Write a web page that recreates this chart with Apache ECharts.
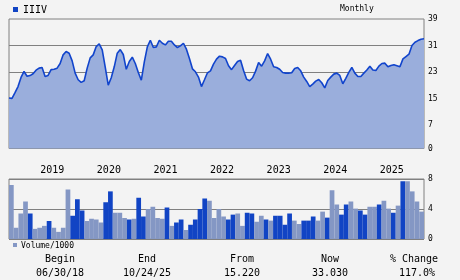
<!DOCTYPE html>
<html>
<head>
<meta charset="utf-8">
<script src="https://cdn.jsdelivr.net/npm/echarts@6/dist/echarts.min.js"></script>
<style>
html,body{margin:0;padding:0;background:#f3f3f3;}
#c{width:460px;height:280px;}
</style>
</head>
<body>
<div id="c"></div>
<script>
// ---- data ----
const ticker = 'IIIV';
const priceValues = [
15.22,15.1,16.8,18.65,21.4,23.2,21.75,21.96,22.5,23.6,
24.2,24.4,21.7,22.0,23.75,23.85,24.2,25.6,28.2,29.2,
28.7,26.4,22.7,20.7,19.9,20.4,24.2,27.3,28.2,30.7,
31.5,29.7,24.5,19.1,21.3,24.6,28.7,29.8,28.3,23.85,
26.2,27.5,25.6,22.9,20.6,26.1,30.6,32.6,30.4,30.6,
32.6,31.7,31.2,32.3,32.3,31.2,30.4,30.9,31.7,29.9,
27.1,24.0,23.1,21.5,18.65,20.7,22.8,23.4,25.4,26.9,
27.8,27.6,27.1,24.9,23.75,25.0,26.2,26.6,23.5,20.9,
20.4,21.3,23.3,25.9,24.8,26.4,28.6,26.9,24.6,24.4,
23.85,22.9,22.7,22.7,22.8,24.1,24.4,23.4,21.5,20.2,
18.65,19.4,20.3,20.8,19.8,18.25,20.5,21.5,22.4,22.7,
22.0,19.5,21.1,22.9,24.4,22.7,21.7,21.7,22.7,23.65,
24.8,23.65,23.5,24.8,25.6,25.7,24.6,25.0,25.2,24.9,
24.6,27.0,27.7,28.4,31.0,32.0,32.5,32.9,33.03];
const volumeValues = [
7.2,1.5,3.4,5.0,3.4,1.35,1.5,1.75,2.4,1.5,0.95,1.5,6.6,3.1,5.3,3.8,2.4,2.7,2.6,2.2,4.9,6.35,3.5,3.5,2.8,2.6,2.7,5.5,3.0,4.0,4.3,2.8,2.7,4.2,1.75,2.2,2.6,1.2,1.9,2.6,4.0,5.4,5.1,2.8,4.0,3.0,2.6,
3.25,3.4,1.75,3.5,3.4,2.3,3.1,2.6,2.45,3.1,3.1,1.9,3.4,2.45,2.0,2.45,2.45,3.0,2.45,3.65,2.85,6.5,4.6,3.25,4.6,5.0,4.05,3.8,3.25,4.3,4.3,4.6,5.1,4.05,3.5,4.45,7.7,7.7,6.35,5.0,3.65];
const volumeUp = [
0,0,0,0,1,0,0,0,1,0,0,0,0,1,1,1,0,0,0,0,1,1,0,0,0,1,0,1,1,0,0,0,0,1,0,1,1,0,1,1,1,1,0,0,0,0,1,
1,0,0,1,1,0,0,1,0,1,1,1,1,0,0,1,1,1,0,0,1,0,0,1,1,0,0,1,1,0,0,1,0,0,1,0,1,0,0,0,0];
const priceTicks = [0,7,15,23,31,39];
const priceGridLines = [23,31];
const volumeTicks = [0,4,8];
const startYear = 2018, startMonth = 7, monthCount = 88;
const months = [];
for (let k = 0; k < monthCount; k++) {
  const m = startMonth - 1 + k;
  const y = startYear + Math.floor(m / 12);
  const mm = (m % 12) + 1;
  months.push(y + '-' + (mm < 10 ? '0' + mm : mm));
}
const footerHeads = ['Begin','End','From','Now','% Change'];
const footerValues = ['06/30/18','10/24/25','15.220','33.030','117.0%'];

// ---- chart ----
const FONT = 'DejaVu Sans Mono';
const GREY = '#808080';
const chart = echarts.init(document.getElementById('c'), null, {renderer:'canvas'});
const priceIdx = priceValues.map((_, i) => i);
const footerX1 = [60,147,242,330,414];
const footerX2 = [60,147,242,330,417];
const graphics = [
  {type:'rect', shape:{x:13,y:7,width:5,height:5}, style:{fill:'#1144c4'}},
  {type:'text', x:23, y:10, style:{text:ticker, font:'10px ' + FONT, fill:'#000', textVerticalAlign:'middle'}},
  {type:'text', x:340, y:9, style:{text:'Monthly', font:'8px ' + FONT, fill:'#000', textVerticalAlign:'middle'}},
  {type:'rect', shape:{x:13,y:243,width:4,height:4}, style:{fill:'#8497c4'}},
  {type:'text', x:21, y:245.5, style:{text:'Volume/1000', font:'8px ' + FONT, fill:'#000', textVerticalAlign:'middle'}}
];
footerHeads.forEach((t, k) => {
  graphics.push({type:'text', x:footerX1[k], y:259, style:{text:t, font:'10px ' + FONT, fill:'#000', textAlign:'center', textVerticalAlign:'middle'}});
  graphics.push({type:'text', x:footerX2[k], y:273, style:{text:footerValues[k], font:'10px ' + FONT, fill:'#000', textAlign:'center', textVerticalAlign:'middle'}});
});

chart.setOption({
  backgroundColor:'#f3f3f3',
  animation:false,
  grid:[
    {left:9, top:19, width:415, height:129.5, show:true, borderColor:GREY, borderWidth:1, backgroundColor:'transparent'},
    {left:9, top:179, width:415, height:60, show:true, borderColor:GREY, borderWidth:1, backgroundColor:'transparent'}
  ],
  xAxis:[
    {gridIndex:0, type:'category', boundaryGap:false, data:priceIdx,
     axisLine:{show:false}, axisTick:{show:false}, axisLabel:{show:false}, splitLine:{show:false}},
    {gridIndex:1, type:'category', position:'top', boundaryGap:true, data:months,
     axisLine:{show:false}, axisTick:{show:false}, splitLine:{show:false},
     axisLabel:{interval:(i, v) => v.slice(5) === '04', formatter:v => v.slice(0,4),
       fontFamily:FONT, fontSize:10, color:'#000', margin:4, padding:[0,3,0,0]}}
  ],
  yAxis:[
    {gridIndex:0, type:'value', position:'right', min:0, max:39,
     axisLine:{show:false}, axisTick:{show:false}, splitLine:{show:false},
     axisLabel:{customValues:priceTicks, fontFamily:FONT, fontSize:8, color:'#000', margin:4, padding:[4,0,0,0]}},
    {gridIndex:1, type:'value', position:'right', min:0, max:8, interval:4,
     axisLine:{show:false}, axisTick:{show:false},
     splitLine:{show:true, lineStyle:{color:GREY, width:1}},
     axisLabel:{customValues:volumeTicks, fontFamily:FONT, fontSize:8, color:'#000', margin:4, padding:[2,0,0,0]}}
  ],
  series:[
    {type:'line', xAxisIndex:0, yAxisIndex:0, data:priceValues, z:1, silent:true,
     showSymbol:false, lineStyle:{opacity:0}, 
     markLine:{z:1, silent:true, symbol:'none', label:{show:false},
       lineStyle:{color:GREY, width:1, type:'solid'},
       data:priceGridLines.map(v => ({yAxis:v}))}},
    {type:'line', xAxisIndex:0, yAxisIndex:0, data:priceValues, z:3,
     showSymbol:false, symbol:'none',
     lineStyle:{color:'#1144cc', width:1.6},
     areaStyle:{color:'#9aaedc', opacity:1}},
    {type:'bar', xAxisIndex:1, yAxisIndex:1, barCategoryGap:'0%', z:3,
     data:volumeValues.map((v, k) => ({value:v, itemStyle:{color: volumeUp[k] ? '#1144c4' : '#8497c4'}}))}
  ],
  graphic:graphics
});
</script>
</body>
</html>
